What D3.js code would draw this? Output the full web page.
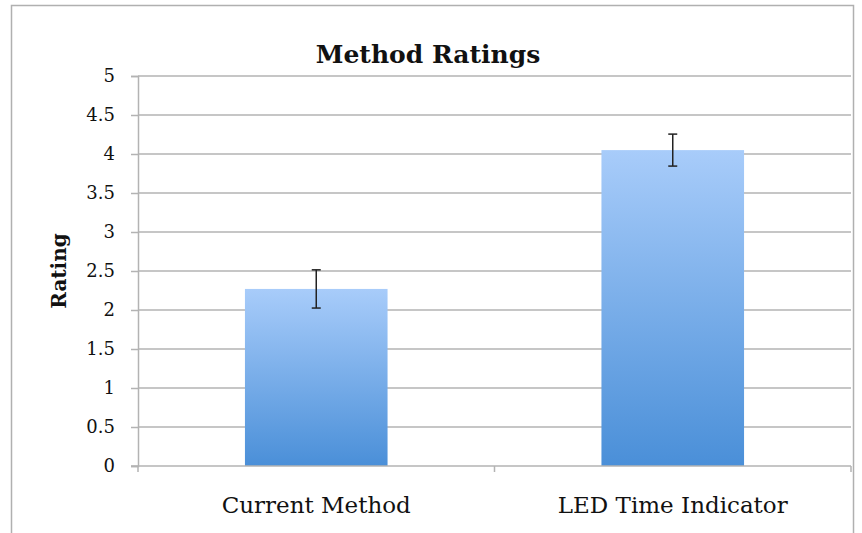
<!DOCTYPE html>
<html>
<head>
<meta charset="utf-8">
<script src="https://cdn.jsdelivr.net/npm/d3@7"></script>
<style>
  html, body { margin: 0; padding: 0; background: #fff; }
  svg { display: block; }
</style>
</head>
<body>
<div id="chart"></div>
<script>
(function() {
    'use strict';

    // Data
    const categories = ['Current Method', 'LED Time Indicator'];
    const ratings = [2.27, 4.05];
    const errors = [0.245, 0.205];
    const yTickValues = [0, 0.5, 1, 1.5, 2, 2.5, 3, 3.5, 4, 4.5, 5];

    const width = 862;
    const height = 533;
    const plot = { left: 138, right: 851, top: 76, bottom: 466 };
    const serif = '"DejaVu Serif", serif';

    const svg = d3.select('#chart')
        .append('svg')
        .attr('width', width)
        .attr('height', height);

    // Bar gradient
    const grad = svg.append('defs').append('linearGradient')
        .attr('id', 'barFill')
        .attr('x1', 0).attr('y1', 0)
        .attr('x2', 0).attr('y2', 1);
    grad.append('stop').attr('offset', '0%').attr('stop-color', '#a8ccfa');
    grad.append('stop').attr('offset', '100%').attr('stop-color', '#4a8fd8');

    // Outer chart border (bottom edge falls off the picture)
    svg.append('rect')
        .attr('x', 11.5)
        .attr('y', 5.5)
        .attr('width', 842)
        .attr('height', 560)
        .attr('fill', 'none')
        .attr('stroke', '#b0b0b0')
        .attr('stroke-width', 1.5);

    // Scales
    const x = d3.scaleBand()
        .domain(categories)
        .range([plot.left, plot.right])
        .paddingInner(0.6)
        .paddingOuter(0.3);

    const xEdges = d3.scaleBand()
        .domain(categories)
        .range([plot.left, plot.right])
        .padding(0);

    const y = d3.scaleLinear()
        .domain([0, 5])
        .range([plot.bottom, plot.top]);

    // Gridlines
    svg.append('g')
        .selectAll('line')
        .data(yTickValues.filter(v => v > 0))
        .enter().append('line')
        .attr('x1', plot.left)
        .attr('x2', plot.right)
        .attr('y1', d => y(d))
        .attr('y2', d => y(d))
        .attr('stroke', '#b3b3b3')
        .attr('stroke-width', 1.5);

    // Y axis
    const yAxis = svg.append('g')
        .attr('transform', `translate(${plot.left},0)`)
        .call(d3.axisLeft(y)
            .tickValues(yTickValues)
            .tickSize(7)
            .tickPadding(16)
            .tickFormat(d3.format('')));
    yAxis.attr('font-family', serif).attr('font-size', 18);
    yAxis.select('.domain').attr('stroke', '#b3b3b3').attr('stroke-width', 1.5);
    yAxis.selectAll('.tick line').attr('stroke', '#b3b3b3').attr('stroke-width', 1.5);
    yAxis.selectAll('.tick text').attr('fill', '#111');

    // Bars
    svg.append('g')
        .selectAll('rect')
        .data(categories)
        .enter().append('rect')
        .attr('x', d => x(d))
        .attr('width', x.bandwidth())
        .attr('y', (d, i) => y(ratings[i]))
        .attr('height', (d, i) => y(0) - y(ratings[i]))
        .attr('fill', 'url(#barFill)');

    // X axis
    const xAxisG = svg.append('g')
        .attr('transform', `translate(0,${plot.bottom})`);
    xAxisG.append('line')
        .attr('x1', plot.left - 7)
        .attr('x2', plot.right)
        .attr('stroke', '#b3b3b3')
        .attr('stroke-width', 1.5);
    const xTickPos = categories.map(c => xEdges(c)).concat([plot.right]);
    xAxisG.selectAll('line.tk')
        .data(xTickPos)
        .enter().append('line')
        .attr('class', 'tk')
        .attr('x1', d => d)
        .attr('x2', d => d)
        .attr('y1', 0)
        .attr('y2', 6)
        .attr('stroke', '#b3b3b3')
        .attr('stroke-width', 1.5);
    xAxisG.selectAll('text')
        .data(categories)
        .enter().append('text')
        .attr('x', d => x(d) + x.bandwidth() / 2)
        .attr('y', 47)
        .attr('text-anchor', 'middle')
        .attr('font-family', serif)
        .attr('font-size', '23px')
        .attr('fill', '#111')
        .text(d => d);

    // Error bars
    const errG = svg.append('g')
        .attr('stroke', '#222')
        .attr('stroke-width', 1.5);
    categories.forEach((c, i) => {
        const cx = x(c) + x.bandwidth() / 2;
        const hi = y(ratings[i] + errors[i]);
        const lo = y(ratings[i] - errors[i]);
        errG.append('line').attr('x1', cx).attr('x2', cx).attr('y1', hi).attr('y2', lo);
        errG.append('line').attr('x1', cx - 4.5).attr('x2', cx + 4.5).attr('y1', hi).attr('y2', hi);
        errG.append('line').attr('x1', cx - 4.5).attr('x2', cx + 4.5).attr('y1', lo).attr('y2', lo);
    });

    // Title
    svg.append('text')
        .attr('x', 428)
        .attr('y', 63)
        .attr('text-anchor', 'middle')
        .attr('font-family', serif)
        .attr('font-weight', 'bold')
        .attr('font-size', '25px')
        .attr('fill', '#111')
        .text('Method Ratings');

    // Y axis label
    svg.append('text')
        .attr('transform', `translate(66,${(plot.top + plot.bottom) / 2}) rotate(-90)`)
        .attr('text-anchor', 'middle')
        .attr('font-family', serif)
        .attr('font-weight', 'bold')
        .attr('font-size', '20px')
        .attr('fill', '#111')
        .text('Rating');
})();
</script>
</body>
</html>
